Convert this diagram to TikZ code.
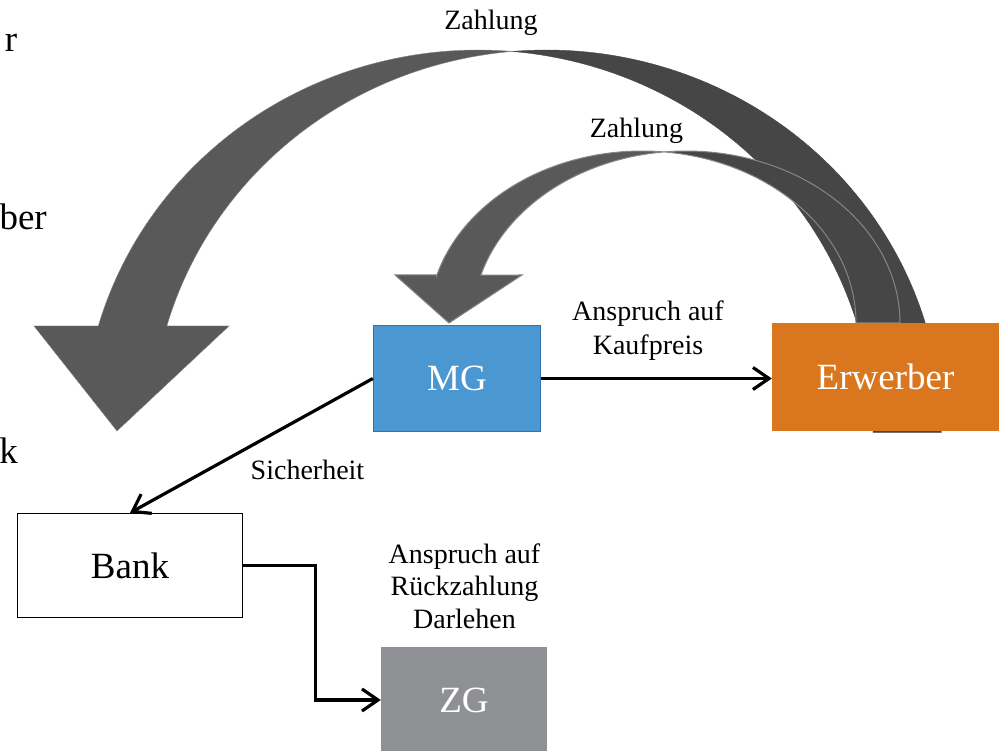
\documentclass[tikz,border=0pt]{standalone}
\usepackage{fontspec}
\setmainfont{Liberation Serif}
\usetikzlibrary{arrows.meta,calc}

\definecolor{mgblue}{HTML}{4B97D2}
\definecolor{mgedge}{HTML}{2E74B5}
\definecolor{erworange}{HTML}{DA761E}
\definecolor{zggray}{HTML}{8F9094}
\definecolor{arrowfront}{HTML}{595959}
\definecolor{arrowback}{HTML}{464646}
\definecolor{arrowrim}{HTML}{858585}

\tikzset{
  boxbase/.style={inner sep=0pt, font=\fontsize{37}{44}\selectfont},
  mgbox/.style={boxbase, fill=mgblue, draw=mgedge, line width=1.3pt, text=white,
    minimum width=167pt, minimum height=106pt},
  erwbox/.style={boxbase, fill=erworange, text=white,
    minimum width=227pt, minimum height=108pt},
  bankbox/.style={boxbase, fill=white, draw=black, line width=1.3pt,
    minimum width=225pt, minimum height=104pt},
  zgbox/.style={boxbase, fill=zggray, text=white,
    minimum width=166pt, minimum height=106pt},
  lbl/.style={inner sep=0pt, align=center, font=\fontsize{28}{33.5}\selectfont},
  edgetxt/.style={inner sep=0pt, font=\fontsize{37}{44}\selectfont},
  conn/.style={line width=3.2pt, -{Straight Barb[length=16pt,width=22pt]}},
  bigfront/.style={fill=arrowfront, draw=arrowrim, line width=0.4pt},
  bigback/.style={fill=arrowback, draw=arrowback, line width=0.4pt},
  smallfront/.style={fill=arrowfront, draw=arrowrim, line width=1pt},
  smallback/.style={fill=arrowback, draw=arrowrim, line width=1pt},
}

\begin{document}
\begin{tikzpicture}[x=1pt,y=-1pt]
\useasboundingbox (0,0) rectangle (1002,751);
\clip (0,0) rectangle (1002,751);

% large curved arrow: two equal ellipses offset by the shaft width
% back (tail) part
\path[bigback]
  plot[domain=95:-0.2, samples=80, variable=\t] ({546.5+395*cos(\t)},{431-381*sin(\t)})
  -- plot[domain=-0.2:85.1, samples=80, variable=\t] ({478+395*cos(\t)},{431-381*sin(\t)})
  -- cycle;
% front part with head
\path[bigfront] (34,326) -- (98.3,326)
  -- plot[domain=164:85.1, samples=80, variable=\t] ({478+395*cos(\t)},{431-381*sin(\t)})
  -- plot[domain=95:164, samples=80, variable=\t] ({546.5+395*cos(\t)},{431-381*sin(\t)})
  -- (229,326) -- (117,431) -- cycle;

% small curved arrow
\path[smallback]
  plot[domain=95.91:0, samples=60, variable=\t] ({686.2+213.8*cos(\t)},{323-172*sin(\t)})
  -- plot[domain=0:84.09, samples=60, variable=\t] ({642.2+213.8*cos(\t)},{323-172*sin(\t)})
  -- cycle;
\path[smallfront] (395,275) -- (436.9,275)
  -- plot[domain=163.8:84.09, samples=60, variable=\t] ({642.2+213.8*cos(\t)},{323-172*sin(\t)})
  -- plot[domain=95.91:163.8, samples=60, variable=\t] ({686.2+213.8*cos(\t)},{323-172*sin(\t)})
  -- (522,275) -- (449,323) -- cycle;

% boxes
\node[mgbox] (MG) at (457,378.5) {MG};
\node[erwbox] (Erwerber) at (885.5,377) {Erwerber};
\node[bankbox] (Bank) at (130,565.5) {Bank};
\node[zgbox] (ZG) at (464,700) {ZG};

% connectors
\draw[conn] (MG.east) -- (MG.east -| Erwerber.west);
\draw[conn] (MG.west) -- (Bank.north);
\draw[conn] (Bank.east) -- ++(72,0) |- (ZG.west);

% labels
\node[lbl, anchor=base] (zahl1) at (491,30) {Zahlung};
\node[lbl, anchor=base] (zahl2) at (636.5,137.5) {Zahlung};
\node[lbl, font=\fontsize{28}{34.5}\selectfont] (kauf) at (648,330.5) {Anspruch auf\\Kaufpreis};
\node[lbl, anchor=base] (sich) at (307.5,479) {Sicherheit};
\node[lbl, font=\fontsize{28}{32.5}\selectfont] (rueck) at (464.5,586) {Anspruch auf\\Rückzahlung\\Darlehen};

% word endings at the left edge
\node[edgetxt, anchor=base east] (e1) at (17.5,52) {r};
\node[edgetxt, anchor=base east] (e2) at (47,230) {ber};
\node[edgetxt, anchor=base east] (e3) at (18,463) {k};
\end{tikzpicture}
\end{document}
